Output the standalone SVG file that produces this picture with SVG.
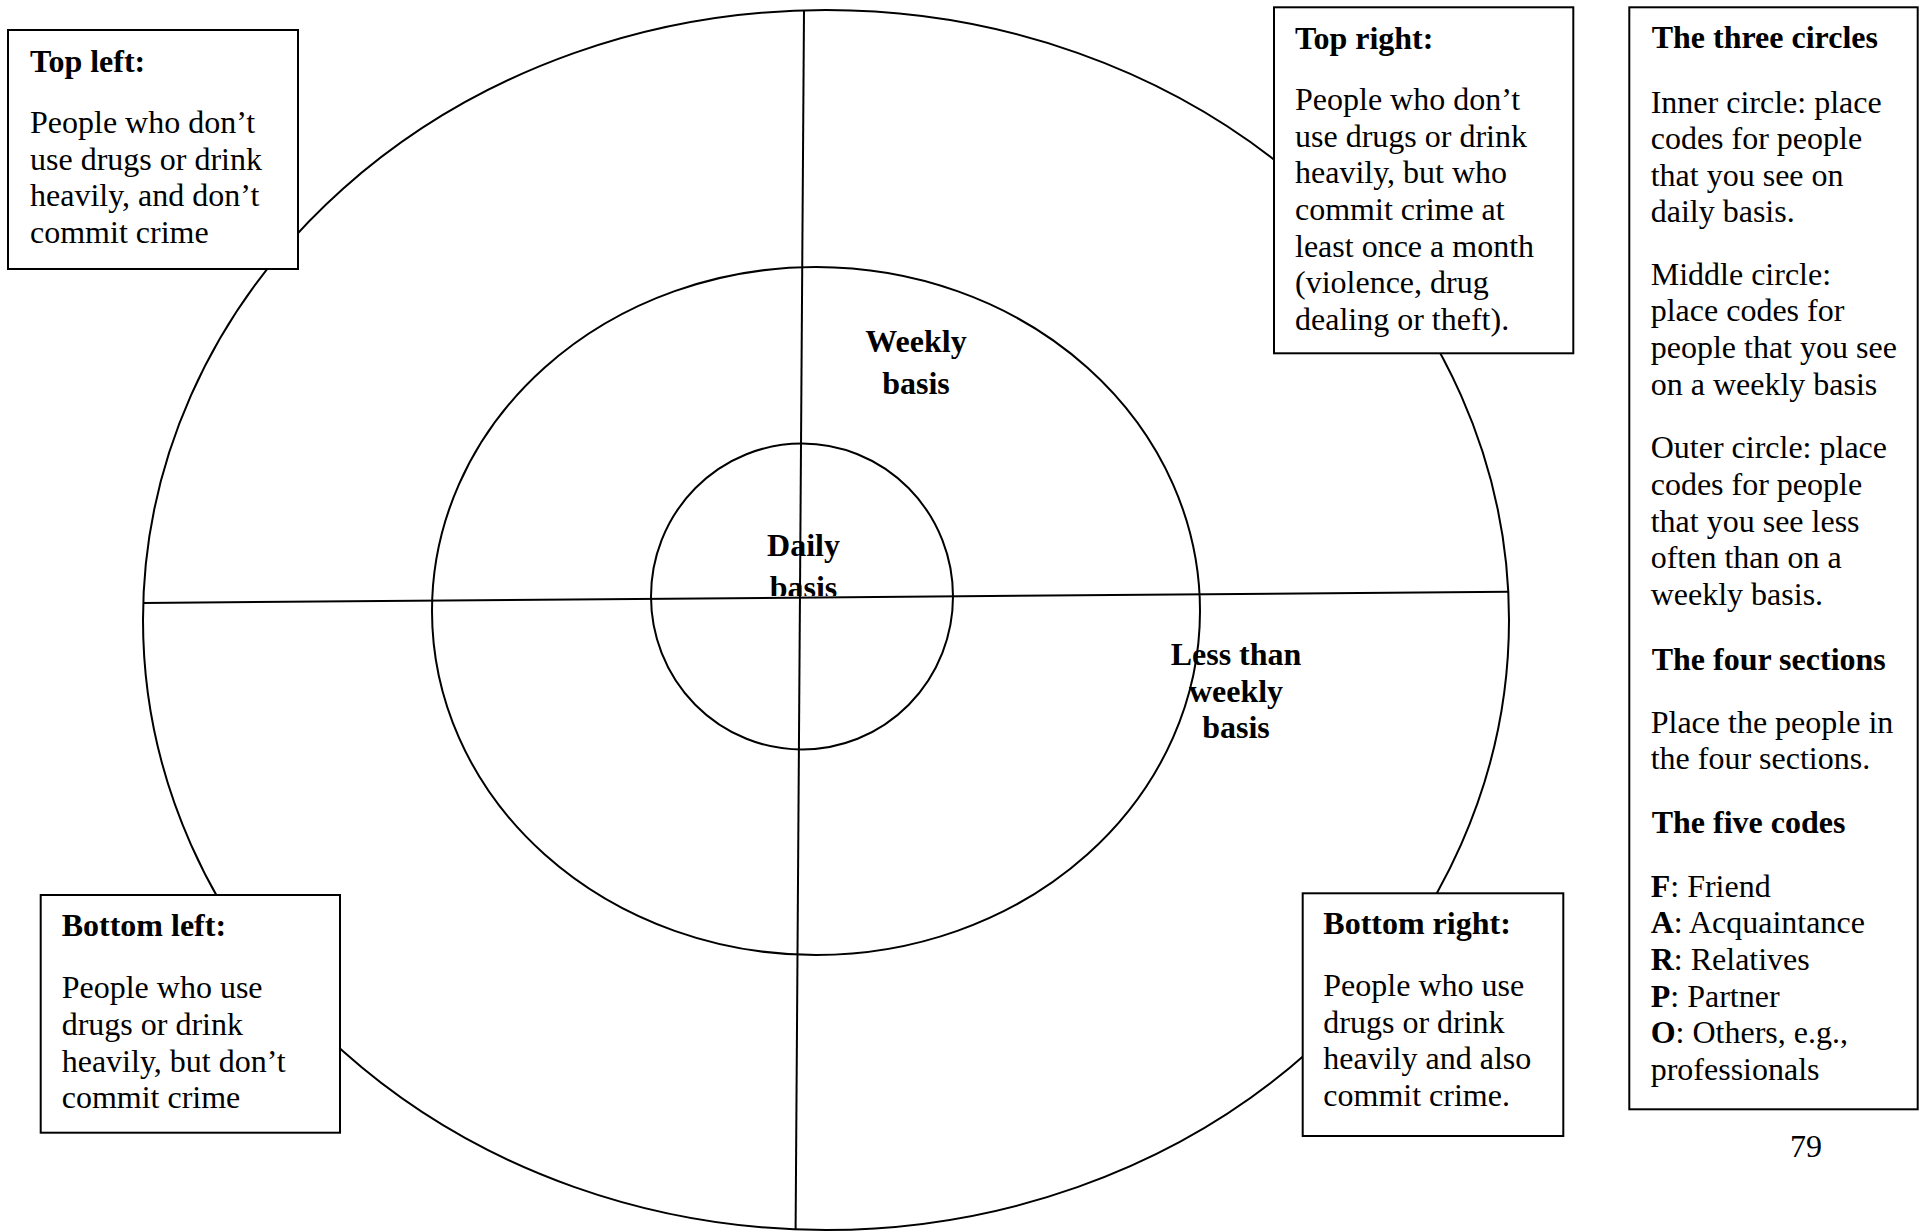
<svg xmlns="http://www.w3.org/2000/svg" width="1925" height="1232" viewBox="0 0 1925 1232">
  <style>
    .ln { fill: none; stroke: #000; stroke-width: 2; }
    .box { fill: #fff; stroke: #000; stroke-width: 2; }
    text { font-family: "Liberation Serif", "Times New Roman", serif; font-size: 32px; fill: #000; }
    .b { font-weight: bold; }
    .c { text-anchor: middle; font-weight: bold; }
  </style>
  <defs>
    <clipPath id="clipDaily">
      <rect x="700" y="500" width="200" height="96"/>
    </clipPath>
  </defs>
  <rect x="0" y="0" width="1925" height="1232" fill="#fff"/>

  <g id="rings">
    <ellipse class="ln" cx="826" cy="620" rx="683" ry="610"/>
    <ellipse class="ln" cx="816" cy="611" rx="384" ry="344"/>
    <ellipse class="ln" cx="802" cy="596.5" rx="151" ry="153"/>
  </g>

  <g id="ring-labels">
    <text class="c" x="916" y="352">Weekly</text>
    <text class="c" x="916" y="394">basis</text>
    <text class="c" x="803.5" y="556">Daily</text>
    <text class="c" x="803.5" y="598" clip-path="url(#clipDaily)">basis</text>
    <text class="c" x="1236" y="665">Less than</text>
    <text class="c" x="1236" y="702">weekly</text>
    <text class="c" x="1236" y="738">basis</text>
  </g>

  <g id="connectors">
    <line class="ln" x1="143" y1="603" x2="1509" y2="591.8"/>
    <line class="ln" x1="804" y1="10" x2="795.6" y2="1230"/>
  </g>

  <g id="top-left">
    <rect class="box" x="8" y="30" width="290" height="239"/>
    <text class="b" x="30" y="71.5">Top left:</text>
    <text x="30" y="133.3">People who don’t</text>
    <text x="30" y="169.8">use drugs or drink</text>
    <text x="30" y="206.3">heavily, and don’t</text>
    <text x="30" y="242.8">commit crime</text>
  </g>

  <g id="top-right">
    <rect class="box" x="1274" y="7.3" width="299.3" height="346"/>
    <text class="b" x="1295" y="49.3">Top right:</text>
    <text x="1295" y="110">People who don’t</text>
    <text x="1295" y="146.7">use drugs or drink</text>
    <text x="1295" y="183.3">heavily, but who</text>
    <text x="1295" y="220">commit crime at</text>
    <text x="1295" y="256.7">least once a month</text>
    <text x="1295" y="293.3">(violence, drug</text>
    <text x="1295" y="330">dealing or theft).</text>
  </g>

  <g id="bottom-left">
    <rect class="box" x="40.7" y="895" width="299.3" height="237.7"/>
    <text class="b" x="61.7" y="936">Bottom left:</text>
    <text x="61.7" y="998.3">People who use</text>
    <text x="61.7" y="1035">drugs or drink</text>
    <text x="61.7" y="1071.7">heavily, but don’t</text>
    <text x="61.7" y="1108.3">commit crime</text>
  </g>

  <g id="bottom-right">
    <rect class="box" x="1302.7" y="893.3" width="260.6" height="242.7"/>
    <text class="b" x="1323.3" y="934">Bottom right:</text>
    <text x="1323.3" y="996">People who use</text>
    <text x="1323.3" y="1032.7">drugs or drink</text>
    <text x="1323.3" y="1069.3">heavily and also</text>
    <text x="1323.3" y="1106">commit crime.</text>
  </g>

  <g id="legend">
    <rect class="box" x="1629.3" y="7.3" width="288.4" height="1102"/>
    <text class="b" x="1651.7" y="48.3">The three circles</text>
    <text x="1650.7" y="112.5">Inner circle: place</text>
    <text x="1650.7" y="149">codes for people</text>
    <text x="1650.7" y="185.5">that you see on</text>
    <text x="1650.7" y="222">daily basis.</text>
    <text x="1650.7" y="284.5">Middle circle:</text>
    <text x="1650.7" y="321">place codes for</text>
    <text x="1650.7" y="357.5">people that you see</text>
    <text x="1650.7" y="394.5">on a weekly basis</text>
    <text x="1650.7" y="458.3">Outer circle: place</text>
    <text x="1650.7" y="495">codes for people</text>
    <text x="1650.7" y="531.7">that you see less</text>
    <text x="1650.7" y="568.3">often than on a</text>
    <text x="1650.7" y="605">weekly basis.</text>
    <text class="b" x="1651.7" y="670">The four sections</text>
    <text x="1650.7" y="732.7">Place the people in</text>
    <text x="1650.7" y="769.3">the four sections.</text>
    <text class="b" x="1651.7" y="832.7">The five codes</text>
    <text x="1650.7" y="896.5"><tspan class="b">F</tspan>: Friend</text>
    <text x="1650.7" y="933.3"><tspan class="b">A</tspan>: Acquaintance</text>
    <text x="1650.7" y="970"><tspan class="b">R</tspan>: Relatives</text>
    <text x="1650.7" y="1006.7"><tspan class="b">P</tspan>: Partner</text>
    <text x="1650.7" y="1043.3"><tspan class="b">O</tspan>: Others, e.g.,</text>
    <text x="1650.7" y="1080">professionals</text>
  </g>

  <g id="page-number">
    <text x="1806" y="1156.7" text-anchor="middle">79</text>
  </g>
</svg>
